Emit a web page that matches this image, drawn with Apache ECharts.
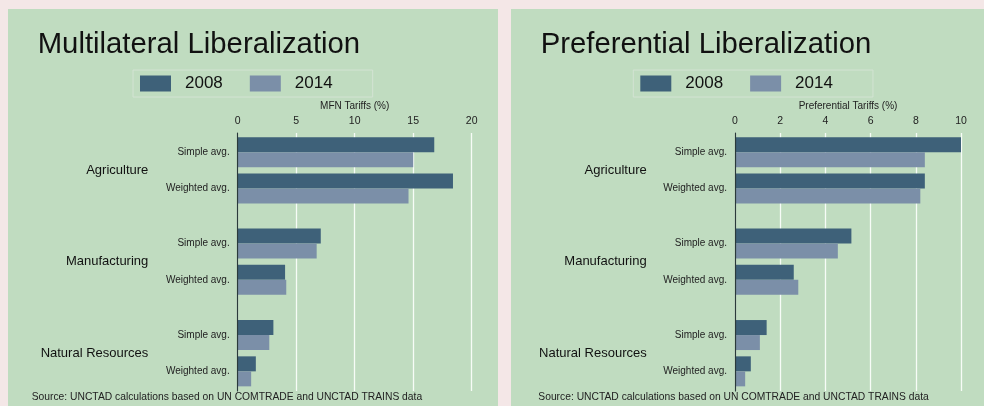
<!DOCTYPE html>
<html>
<head>
<meta charset="utf-8">
<script src="https://cdn.jsdelivr.net/npm/echarts@6/dist/echarts.min.js"></script>
<style>
  html, body { margin: 0; padding: 0; background: #f4e7e7; }
  .panel { position: absolute; top: 9px; height: 397px; background: #c0dcc0; }
  #left { left: 8px; width: 490px; }
  #right { left: 511px; width: 473px; }
</style>
</head>
<body>
<div id="left" class="panel"></div>
<div id="right" class="panel"></div>
<script>
// data
const years = ['2008', '2014']
const sectors = ['Agriculture', 'Manufacturing', 'Natural Resources']
const measures = ['Simple avg.', 'Weighted avg.']
// values ordered sector by sector: [simple, weighted, simple, weighted, ...]
const mfn2008 = [16.8, 18.4, 7.1, 4.05, 3.05, 1.55]
const mfn2014 = [15.0, 14.6, 6.75, 4.15, 2.7, 1.15]
const pref2008 = [10.0, 8.4, 5.15, 2.6, 1.4, 0.7]
const pref2014 = [8.4, 8.2, 4.55, 2.8, 1.1, 0.45]
const mfnTicks = [0, 5, 10, 15, 20]
const prefTicks = [0, 2, 4, 6, 8, 10]

const FONT = 'Liberation Sans, Arial, sans-serif'
const colors = ['#3e6179', '#7b8fa8']

const makePanel = (el, cfg) => {
  const chart = echarts.init(el)
  const xMin = cfg.ticks[0]
  const xMax = cfg.ticks[cfg.ticks.length - 1]
  const interval = cfg.ticks[1] - cfg.ticks[0]

  // background grid carries the tick labels, gridlines and the y axis line
  const grids = [{ left: cfg.left, right: cfg.right, top: 124, bottom: 15, outerBoundsMode: 'none' }]
  const xAxes = [{
    gridIndex: 0, type: 'value', position: 'top', min: xMin, max: xMax, interval: interval,
    name: cfg.axisName, nameLocation: 'middle', nameGap: 22,
    nameTextStyle: { fontFamily: FONT, fontSize: 10, color: '#222' },
    axisLine: { show: false }, axisTick: { show: false },
    axisLabel: { fontFamily: FONT, fontSize: 10.5, color: '#222', margin: 6 },
    splitLine: { show: true, lineStyle: { color: '#f7fcf7', width: 1.3 } }
  }]
  const yAxes = [{
    gridIndex: 0, type: 'value', min: 0, max: 1, z: 5,
    axisLine: { show: true, lineStyle: { color: '#2a3a3a', width: 1.2 } },
    axisTick: { show: false }, axisLabel: { show: false }, splitLine: { show: false }
  }]
  const series = []
  const sectorTops = [125, 216.3, 307.9]

  sectors.forEach((sector, s) => {
    const g = s + 1
    grids.push({ left: cfg.left, right: cfg.right, top: sectorTops[s], height: 72.6, outerBoundsMode: 'none' })
    xAxes.push({ gridIndex: g, type: 'value', min: xMin, max: xMax, interval: interval, show: false })
    yAxes.push({
      gridIndex: g, type: 'category', data: measures, inverse: true,
      name: sector, nameLocation: 'middle', nameRotate: 0, nameGap: cfg.nameGap,
      nameTextStyle: { fontFamily: FONT, fontSize: 13, color: '#111' },
      axisLine: { show: false }, axisTick: { show: false }, splitLine: { show: false },
      axisLabel: { fontFamily: FONT, fontSize: 10, color: '#222', margin: 8 }
    })
    cfg.values.forEach((vals, k) => {
      series.push({
        name: years[k], type: 'bar', xAxisIndex: g, yAxisIndex: g,
        data: vals.slice(s * 2, s * 2 + 2),
        barWidth: 15, barGap: '0%',
        itemStyle: { color: colors[k] },
        silent: true
      })
    })
  })

  chart.setOption({
    animation: false,
    backgroundColor: 'transparent',
    color: colors,
    title: [
      { text: cfg.title, left: 24.7, top: 16,
        textStyle: { fontFamily: FONT, fontSize: 29.3, fontWeight: 'normal', color: '#111' } },
      { text: 'Source: UNCTAD calculations based on UN COMTRADE and UNCTAD TRAINS data',
        left: cfg.sourceLeft, top: 378,
        textStyle: { fontFamily: FONT, fontSize: 10.3, fontWeight: 'normal', color: '#222' } }
    ],
    legend: {
      data: years, left: cfg.legendLeft, top: 61,
      itemWidth: 31, itemHeight: 16, itemGap: 27,
      padding: [5, 40, 5, 7],
      borderColor: '#d3e3d3', borderWidth: 1,
      icon: 'rect',
      formatter: '{a|{name}}',
      textStyle: { fontFamily: FONT, fontSize: 17, color: '#111',
        rich: { a: { fontFamily: FONT, fontSize: 17, color: '#111', padding: [0, 0, 0, 9] } } }
    },
    grid: grids,
    xAxis: xAxes,
    yAxis: yAxes,
    series: series
  })
  return chart
}

makePanel(document.getElementById('left'), {
  title: 'Multilateral Liberalization', axisName: 'MFN Tariffs (%)',
  ticks: mfnTicks, values: [mfn2008, mfn2014],
  left: 229.7, right: 26.3, nameGap: 89.4, legendLeft: 125, sourceLeft: 18.7
})
makePanel(document.getElementById('right'), {
  title: 'Preferential Liberalization', axisName: 'Preferential Tariffs (%)',
  ticks: prefTicks, values: [pref2008, pref2014],
  left: 224, right: 23, nameGap: 88.3, legendLeft: 122.3, sourceLeft: 22.3
})
</script>
</body>
</html>
